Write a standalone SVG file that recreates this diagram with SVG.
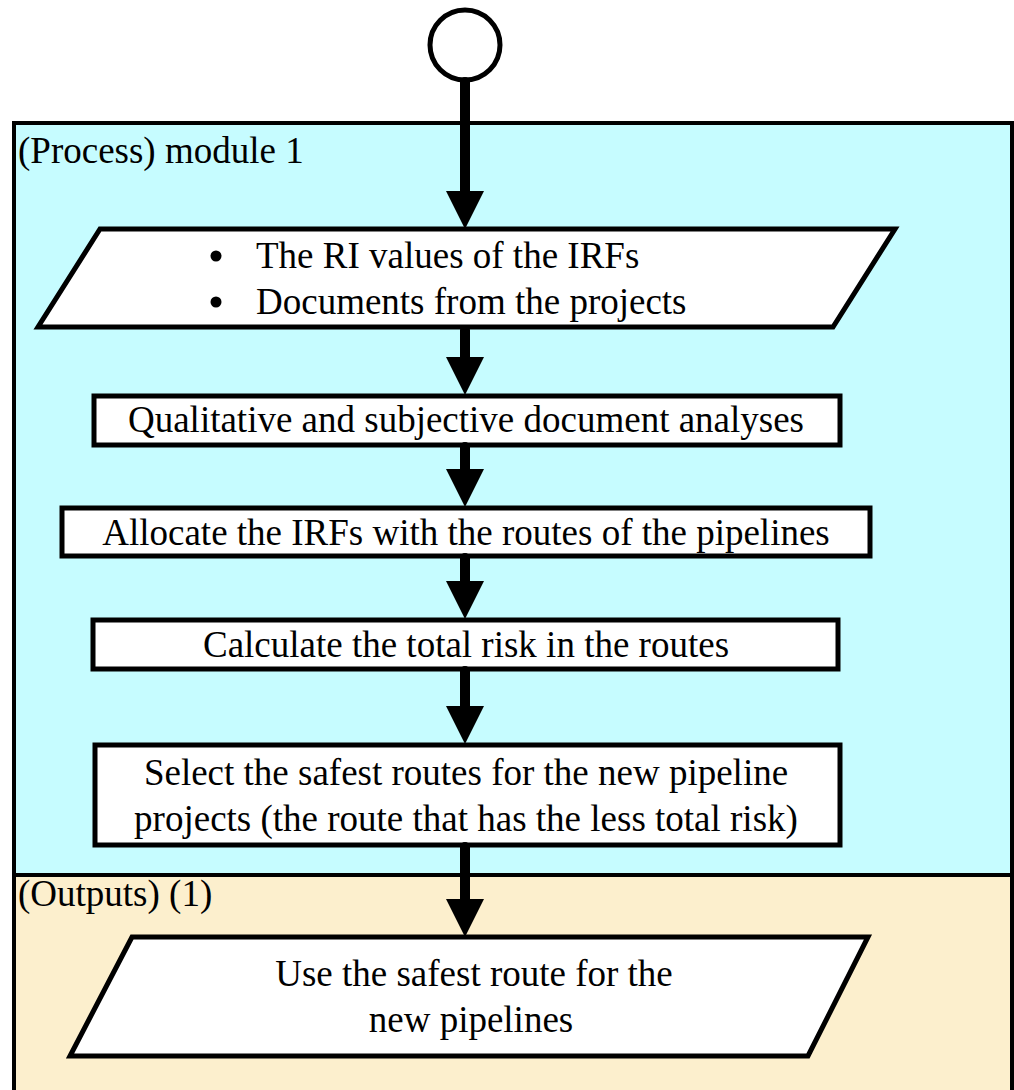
<svg xmlns="http://www.w3.org/2000/svg" width="1014" height="1090" viewBox="0 0 1014 1090">
  <style>
    .lane { stroke: #000; stroke-width: 4; }
    .box { fill: #fff; stroke: #000; stroke-width: 5; stroke-linejoin: miter; }
    .txt { font-family: "Liberation Serif", "Times New Roman", serif; font-size: 37px; fill: #000; }
    .mid { text-anchor: middle; }
    .flow { stroke: #000; stroke-width: 10; stroke-linecap: round; fill: none; }
  </style>
  <defs>
    <!-- the line stops 20px short of the tip, so the head is drawn with its tip 20px ahead -->
    <marker id="head" markerUnits="userSpaceOnUse" markerWidth="38" markerHeight="38" viewBox="0 0 38 38" refX="18" refY="19" orient="auto">
      <path d="M0,0 L38,19 L0,38 Z" fill="#000"/>
    </marker>
  </defs>

  <rect width="1014" height="1090" fill="#fff"/>

  <!-- swimlanes -->
  <g id="lane-process">
    <rect class="lane" x="14" y="123" width="998" height="752" fill="#C6FCFF"/>
    <text class="txt" x="18" y="163">(Process) module 1</text>
  </g>
  <g id="lane-outputs">
    <rect class="lane" x="14" y="875" width="998" height="225" fill="#FCEFCD"/>
    <text class="txt" x="18" y="906">(Outputs) (1)</text>
  </g>

  <!-- start -->
  <g id="start">
    <circle cx="465" cy="45" r="35" fill="#fff" stroke="#000" stroke-width="5"/>
  </g>

  <g id="inputs">
    <polygon class="box" points="100,229 895,229 833,327 38,327"/>
    <circle cx="216" cy="256" r="5.5"/>
    <circle cx="216" cy="302" r="5.5"/>
    <text class="txt" x="256" y="268">The RI values of the IRFs</text>
    <text class="txt" x="256" y="314">Documents from the projects</text>
  </g>

  <g id="analyse">
    <rect class="box" x="94" y="396" width="746" height="49"/>
    <text class="txt mid" x="466" y="432">Qualitative and subjective document analyses</text>
  </g>

  <g id="allocate">
    <rect class="box" x="62" y="508" width="808" height="48"/>
    <text class="txt mid" x="466" y="545">Allocate the IRFs with the routes of the pipelines</text>
  </g>

  <g id="calculate">
    <rect class="box" x="93" y="620" width="745" height="49"/>
    <text class="txt mid" x="466" y="657">Calculate the total risk in the routes</text>
  </g>

  <g id="select">
    <rect class="box" x="95" y="745" width="745" height="100"/>
    <text class="txt mid" x="466" y="785">Select the safest routes for the new pipeline</text>
    <text class="txt mid" x="466" y="831">projects (the route that has the less total risk)</text>
  </g>

  <g id="output">
    <polygon class="box" points="132,937 868,937 808,1056 70,1056"/>
    <text class="txt mid" x="474" y="986">Use the safest route for the</text>
    <text class="txt mid" x="471" y="1032">new pipelines</text>
  </g>

  <!-- connectors -->
  <g id="connectors">
    <line class="flow" x1="465" y1="82" x2="465" y2="209" marker-end="url(#head)"/>
    <line class="flow" x1="465" y1="330" x2="465" y2="375" marker-end="url(#head)"/>
    <line class="flow" x1="465" y1="447" x2="465" y2="487" marker-end="url(#head)"/>
    <line class="flow" x1="465" y1="558" x2="465" y2="599" marker-end="url(#head)"/>
    <line class="flow" x1="465" y1="671" x2="465" y2="724" marker-end="url(#head)"/>
    <line class="flow" x1="465" y1="847" x2="465" y2="917" marker-end="url(#head)"/>
  </g>
</svg>
